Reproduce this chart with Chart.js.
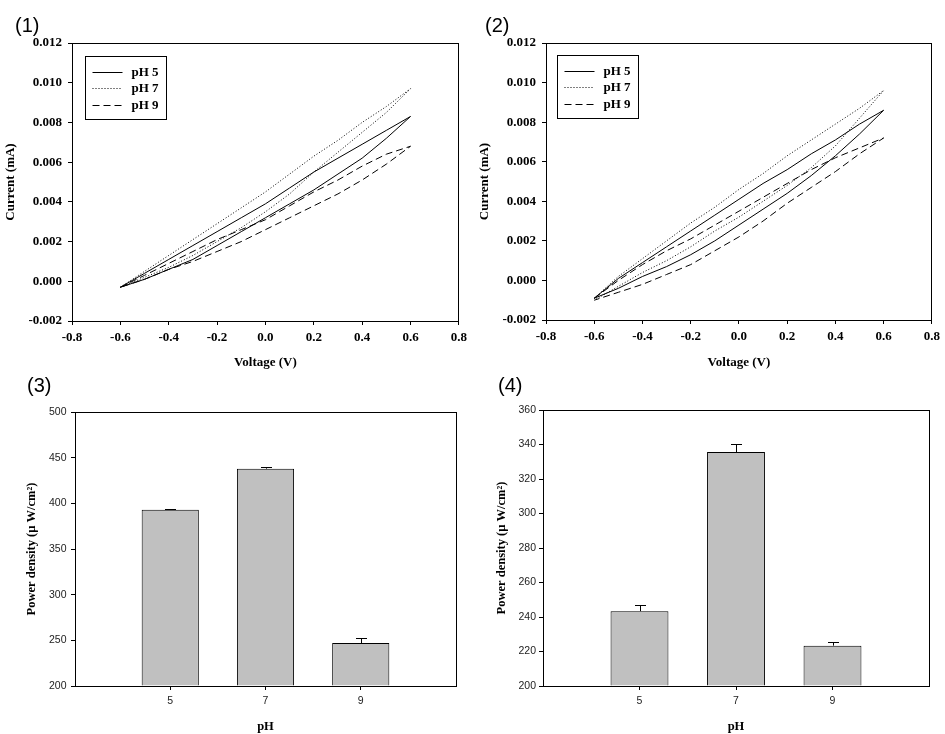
<!DOCTYPE html>
<html>
<head>
<meta charset="utf-8">
<script src="https://cdn.jsdelivr.net/npm/chart.js@4.4.1/dist/chart.umd.min.js"></script>
<style>
  html, body { margin: 0; padding: 0; background: #fff; }
  #fig { position: relative; width: 945px; height: 734px; overflow: hidden; }
  .panel { position: absolute; }
  .panel canvas { display: block; }
  .tag { position: absolute; font-family: 'Liberation Sans', Arial, sans-serif; font-size: 20px; line-height: 20px; color: #000; }
</style>
</head>
<body>
<div id="fig">
  <div class="panel" style="left:0;top:0"><canvas id="cv1" width="472" height="370"></canvas></div>
  <div class="panel" style="left:473px;top:0"><canvas id="cv2" width="472" height="370"></canvas></div>
  <div class="panel" style="left:0;top:370px"><canvas id="bar3" width="472" height="364"></canvas></div>
  <div class="panel" style="left:473px;top:370px"><canvas id="bar4" width="472" height="364"></canvas></div>
  <div class="tag" style="left:15px;top:15px">(1)</div>
  <div class="tag" style="left:485px;top:15px">(2)</div>
  <div class="tag" style="left:27px;top:375px">(3)</div>
  <div class="tag" style="left:498px;top:375px">(4)</div>
</div>
<script>
// 電圧掃引 (-0.6 → 0.6 → -0.6 V)
const voltage = [-0.6, -0.5, -0.4, -0.3, -0.2, -0.1, 0.0, 0.1, 0.2, 0.3, 0.4, 0.5, 0.6,
                 0.5, 0.4, 0.3, 0.2, 0.1, 0.0, -0.1, -0.2, -0.3, -0.4, -0.5, -0.6];

// (1) 電流 (mA)
const cv1_pH5 = [-0.0003, 0.0004, 0.0011, 0.0018, 0.0025, 0.0032, 0.0039, 0.0047, 0.0055, 0.0062, 0.0069, 0.0076, 0.0083,
                 0.0072, 0.0062, 0.0054, 0.0046, 0.0039, 0.0032, 0.0025, 0.0018, 0.0011, 0.0006, 0.0001, -0.0003];
const cv1_pH7 = [-0.0003, 0.0005, 0.0013, 0.0021, 0.0029, 0.0037, 0.0045, 0.0054, 0.0063, 0.0071, 0.0080, 0.0088, 0.0097,
                 0.0085, 0.0075, 0.0065, 0.0055, 0.0044, 0.0035, 0.0027, 0.0020, 0.0013, 0.0007, 0.0002, -0.0003];
const cv1_pH9 = [-0.0003, 0.0003, 0.0009, 0.0015, 0.0021, 0.0026, 0.0031, 0.0038, 0.0045, 0.0051, 0.0058, 0.0064, 0.0068,
                 0.0059, 0.0051, 0.0044, 0.0038, 0.0032, 0.0026, 0.0020, 0.0015, 0.0010, 0.0006, 0.0001, -0.0003];

// (2) 電流 (mA)
const cv2_pH5 = [-0.0009, 0.0001, 0.0009, 0.0017, 0.0025, 0.0033, 0.0041, 0.0049, 0.0056, 0.0064, 0.0071, 0.0079, 0.0086,
                 0.0074, 0.0063, 0.0053, 0.0044, 0.0036, 0.0028, 0.0020, 0.0013, 0.0007, 0.0002, -0.0004, -0.0009];
const cv2_pH7 = [-0.0009, 0.0002, 0.0011, 0.0020, 0.0029, 0.0037, 0.0046, 0.0054, 0.0063, 0.0071, 0.0079, 0.0087, 0.0096,
                 0.0082, 0.0068, 0.0057, 0.0048, 0.0040, 0.0032, 0.0025, 0.0017, 0.0010, 0.0004, -0.0003, -0.0010];
const cv2_pH9 = [-0.0009, 0.0000, 0.0008, 0.0015, 0.0021, 0.0028, 0.0035, 0.0042, 0.0049, 0.0056, 0.0062, 0.0067, 0.0072,
                 0.0064, 0.0055, 0.0047, 0.0039, 0.0030, 0.0022, 0.0015, 0.0008, 0.0003, -0.0002, -0.0006, -0.0010];

const phLabels = ['pH 5', 'pH 7', 'pH 9'];
const phValues = [5, 7, 9];

// (3)(4) 出力密度 (µW/cm²) と誤差
const power3 = [393, 438, 247];
const power3Err = [1, 2, 6];
const power4 = [243.4, 335.6, 223.4];
const power4Err = [3.4, 4.9, 2.3];

Chart.defaults.color = '#000';
Chart.defaults.animation = false;

const SERIF = "'Liberation Serif', 'Times New Roman', serif";
const SANS = "'Liberation Sans', Arial, sans-serif";

// プロット枠
const framePlugin = {
  id: 'frame',
  afterDraw(chart) {
    const { ctx, chartArea: a } = chart;
    const l = Math.round(a.left - 0.5) + 0.5, r = Math.round(a.right - 0.5) + 0.5;
    const t = Math.round(a.top - 0.5) + 0.5, b = Math.round(a.bottom - 0.5) + 0.5;
    ctx.save();
    ctx.strokeStyle = '#000';
    ctx.lineWidth = 1;
    ctx.strokeRect(l, t, r - l, b - t);
    ctx.restore();
  }
};

// 枠付き凡例（プロット内）
const cvLegend = {
  id: 'cvLegend',
  afterDraw(chart, args, opts) {
    const { ctx, chartArea: a } = chart;
    const x0 = Math.round(a.left + opts.dx) + 0.5;
    const y0 = Math.round(a.top + opts.dy) + 0.5;
    ctx.save();
    ctx.strokeStyle = '#000';
    ctx.lineWidth = 1;
    ctx.strokeRect(x0, y0, 81, 63);
    ctx.font = 'bold 13px ' + SERIF;
    ctx.fillStyle = '#000';
    ctx.textBaseline = 'middle';
    chart.data.datasets.forEach((ds, i) => {
      const y = Math.round(y0 + 15 + i * 16.7) + 0.5;
      ctx.setLineDash(ds.borderDash || []);
      ctx.beginPath();
      ctx.moveTo(x0 + 7, y);
      ctx.lineTo(x0 + 37, y);
      ctx.stroke();
      ctx.setLineDash([]);
      ctx.fillText(ds.label, x0 + 46, y + 0.5);
    });
    ctx.restore();
  }
};

// 上向きエラーバー
const errorBars = {
  id: 'errorBars',
  afterDatasetsDraw(chart, args, opts) {
    const { ctx } = chart;
    const meta = chart.getDatasetMeta(0);
    const yScale = chart.scales.y;
    const ds = chart.data.datasets[0];
    ctx.save();
    ctx.strokeStyle = '#000';
    ctx.lineWidth = 1;
    meta.data.forEach((bar, i) => {
      const v = ds.data[i].y;
      const yTop = Math.round(yScale.getPixelForValue(v + opts.errors[i])) + 0.5;
      const x = Math.round(bar.x) + 0.5;
      ctx.beginPath();
      ctx.moveTo(x, bar.y);
      ctx.lineTo(x, yTop);
      ctx.moveTo(x - 5.5, yTop);
      ctx.lineTo(x + 5.5, yTop);
      ctx.stroke();
    });
    ctx.restore();
  }
};

function fmt(v, d) {
  return Math.abs(v) < 1e-9 ? (0).toFixed(d) : v.toFixed(d);
}

function makeCV(id, series, g) {
  const dashes = [[], [1, 2], [7, 4]];
  new Chart(document.getElementById(id), {
    type: 'scatter',
    data: {
      datasets: series.map((s, i) => ({
        label: phLabels[i],
        data: voltage.map((v, k) => ({ x: v, y: s[k] })),
        showLine: true,
        borderColor: '#000',
        borderWidth: 1,
        borderDash: dashes[i],
        pointRadius: 0,
        tension: 0,
        fill: false
      }))
    },
    options: {
      responsive: false,
      animation: false,
      layout: { padding: { top: g.top, right: g.right, left: 0, bottom: 0 } },
      plugins: {
        legend: { display: false },
        tooltip: { enabled: false },
        cvLegend: { dx: g.lx, dy: g.ly }
      },
      scales: {
        x: {
          type: 'linear',
          min: -0.8, max: 0.8,
          ticks: { stepSize: 0.2, padding: 5, color: '#000', font: { family: SERIF, weight: 'bold', size: 13 }, callback: v => fmt(v, 1) },
          grid: { drawOnChartArea: false, tickLength: 4, tickColor: '#000' },
          border: { color: '#000' },
          title: { display: true, text: 'Voltage (V)', color: '#000', font: { family: SERIF, weight: 'bold', size: 13 }, padding: 0 },
          afterFit: s => { s.height = g.xH; }
        },
        y: {
          min: -0.002, max: 0.012,
          ticks: { stepSize: 0.002, padding: 6, color: '#000', font: { family: SERIF, weight: 'bold', size: 13 }, callback: v => fmt(v, 3) },
          grid: { drawOnChartArea: false, tickLength: 4, tickColor: '#000' },
          border: { color: '#000' },
          title: { display: true, text: 'Current (mA)', color: '#000', font: { family: SERIF, weight: 'bold', size: 13 }, padding: { top: g.yt, bottom: 0 } },
          afterFit: s => { s.width = g.yW; }
        }
      }
    },
    plugins: [framePlugin, cvLegend]
  });
}

function makeBar(id, values, errors, yMin, yMax, step, g) {
  new Chart(document.getElementById(id), {
    type: 'bar',
    data: {
      datasets: [{
        data: phValues.map((p, i) => ({ x: p, y: values[i] })),
        backgroundColor: '#c0c0c0',
        borderColor: '#000',
        borderWidth: 1,
        base: yMin,
        barPercentage: 0.6,
        categoryPercentage: 1
      }]
    },
    options: {
      responsive: false,
      animation: false,
      layout: { padding: { top: g.top, right: g.right, left: 0, bottom: 0 } },
      plugins: {
        legend: { display: false },
        tooltip: { enabled: false },
        errorBars: { errors: errors }
      },
      scales: {
        x: {
          type: 'linear',
          min: 3, max: 11,
          offset: false,
          afterBuildTicks: s => { s.ticks = phValues.map(v => ({ value: v })); },
          ticks: { padding: 5, color: '#222', font: { family: SANS, size: 10.5 }, callback: v => String(v) },
          grid: { offset: false, drawOnChartArea: false, tickLength: 4, tickColor: '#000' },
          border: { color: '#000' },
          title: { display: true, text: 'pH', color: '#000', font: { family: SERIF, weight: 'bold', size: 12.5 }, padding: 0 },
          afterFit: s => { s.height = g.xH; }
        },
        y: {
          min: yMin, max: yMax,
          ticks: { stepSize: step, padding: g.tp, color: '#222', font: { family: SANS, size: 10.5 } },
          grid: { drawOnChartArea: false, tickLength: 4, tickColor: '#000' },
          border: { color: '#000' },
          title: { display: true, text: 'Power density (µ W/cm²)', color: '#000', font: { family: SERIF, weight: 'bold', size: 12.5 }, padding: { top: g.yt, bottom: 0 } },
          afterFit: s => { s.width = g.yW; }
        }
      }
    },
    plugins: [framePlugin, errorBars]
  });
}

makeCV('cv1', [cv1_pH5, cv1_pH7, cv1_pH9], { top: 43, right: 11, yW: 72, xH: 49, yt: 3, lx: 13, ly: 13 });
makeCV('cv2', [cv2_pH5, cv2_pH7, cv2_pH9], { top: 43, right: 13, yW: 73, xH: 50, yt: 4, lx: 11, ly: 12 });
makeBar('bar3', power3, power3Err, 200, 500, 50, { top: 42, right: 16, yW: 75, xH: 48, yt: 24, tp: 4.5 });
makeBar('bar4', power4, power4Err, 200, 360, 20, { top: 40, right: 16, yW: 70, xH: 48, yt: 21, tp: 3 });
</script>
</body>
</html>
